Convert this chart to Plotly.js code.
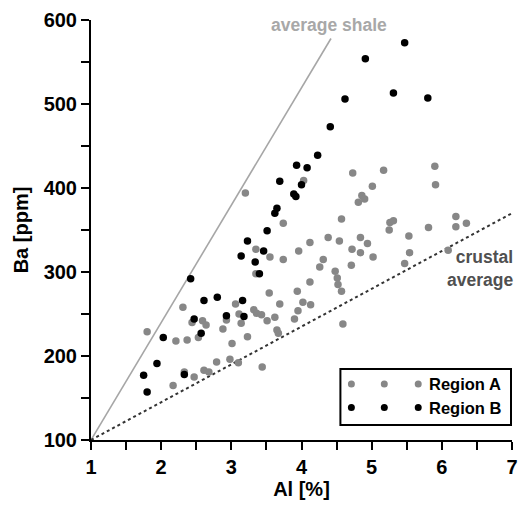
<!DOCTYPE html>
<html>
<head>
<meta charset="utf-8">
<script src="https://cdn.plot.ly/plotly-3.0.1.min.js"></script>
<style>
html,body{margin:0;padding:0;background:#fff;}
#chart{width:518px;height:506px;}
</style>
</head>
<body>
<div id="chart"></div>
<script>
// Region A (grey) : Al [%], Ba [ppm]
const regionA_al = [1.80,2.17,2.21,2.31,2.33,2.37,2.44,2.47,2.53,2.59,2.61,2.64,2.68,2.79,2.88,2.93,2.98,3.01,3.06,3.10,3.11,3.14,3.20,3.23,3.32,3.35,3.35,3.36,3.43,3.44,3.51,3.54,3.55,3.62,3.65,3.67,3.69,3.74,3.74,3.90,3.94,3.95,3.96,4.02,4.03,4.12,4.12,4.13,4.26,4.31,4.38,4.48,4.51,4.52,4.54,4.57,4.57,4.59,4.71,4.72,4.73,4.81,4.84,4.84,4.86,4.90,4.94,5.01,5.02,5.17,5.25,5.26,5.31,5.47,5.53,5.54,5.81,5.90,5.91,6.09,6.20,6.20,6.35];
const regionA_ba = [229,165,218,258,181,219,240,175,222,242,183,237,181,193,232,243,196,215,262,192,250,239,394,223,255,327,298,251,249,187,242,275,318,246,231,227,262,358,315,244,277,254,325,264,409,335,288,261,306,315,341,301,293,285,337,363,277,238,308,327,418,383,341,323,391,387,334,402,318,421,350,359,361,310,343,323,353,426,404,326,366,354,358];
// Region B (black)
const regionB_al = [1.75,1.80,1.94,2.03,2.33,2.42,2.47,2.57,2.61,2.80,2.93,3.16,3.18,3.14,3.23,3.34,3.40,3.46,3.51,3.62,3.65,3.69,3.89,3.92,4.00,3.93,4.08,4.23,4.41,4.62,4.91,5.31,5.47,5.80];
const regionB_ba = [177,157,191,222,178,292,244,227,266,270,248,266,247,319,337,312,298,325,349,370,376,408,393,390,404,427,424,439,473,506,554,513,573,507];
// Reference lines
const shaleAl = [1, 4.42];
const shaleBa = [100, 578];
const crustAl = [1, 7];
const crustBa = [100, 370];
const xTicks = [1,2,3,4,5,6,7];
const yTicks = [100,200,300,400,500,600];
const seriesNames = ['Region A','Region B'];

const FONT = 'Liberation Sans, Arial, sans-serif';

const traces = [
  {x: shaleAl, y: shaleBa, mode:'lines', line:{color:'#a6a6a6', width:1.6}, showlegend:false, hoverinfo:'skip'},
  {x: crustAl, y: crustBa, mode:'lines', line:{color:'#333', width:2, dash:'dot'}, showlegend:false, hoverinfo:'skip'},
  {x: regionA_al, y: regionA_ba, mode:'markers', name: seriesNames[0], marker:{color:'#878787', size:7.5}},
  {x: regionB_al, y: regionB_ba, mode:'markers', name: seriesNames[1], marker:{color:'#000', size:7.5}}
];

function px2x(p){ return (p-91)/422; }
function py2y(p){ return (440-p)/420; }

const shapes = [
  {type:'rect', xref:'paper', yref:'paper', x0:px2x(341), x1:px2x(512), y0:py2y(425), y1:py2y(369), line:{color:'#000', width:2}}
];
const dotX = [352, 385, 419];
const rows = [{py:384, color:'#878787'}, {py:407.5, color:'#000'}];
rows.forEach(r => dotX.forEach(dx => shapes.push({
  type:'circle', xref:'paper', yref:'paper', xsizemode:'pixel', ysizemode:'pixel',
  xanchor:px2x(dx), yanchor:py2y(r.py), x0:-3.5, x1:3.5, y0:-3.5, y1:3.5,
  fillcolor:r.color, line:{width:0}
})));

const annotations = [
  {xref:'paper', yref:'paper', x:px2x(330), y:py2y(25), text:'average shale', showarrow:false, xanchor:'center', yanchor:'middle',
   font:{family:FONT, size:17.5, color:'#a8a8a8', weight:'bold'}},
  {xref:'paper', yref:'paper', x:px2x(516), y:py2y(268), text:'crustal<br>average', showarrow:false, xanchor:'right', yanchor:'middle', align:'right',
   font:{family:FONT, size:17.5, color:'#505050', weight:'bold'}},
  {xref:'paper', yref:'paper', x:px2x(428), y:py2y(384), text:seriesNames[0], showarrow:false, xanchor:'left', yanchor:'middle',
   font:{family:FONT, size:16.5, color:'#000', weight:'bold'}},
  {xref:'paper', yref:'paper', x:px2x(428), y:py2y(407.5), text:seriesNames[1], showarrow:false, xanchor:'left', yanchor:'middle',
   font:{family:FONT, size:16.5, color:'#000', weight:'bold'}}
];

const layout = {
  width:518, height:506,
  margin:{l:91, r:6, t:20, b:66},
  paper_bgcolor:'#fff', plot_bgcolor:'#fff',
  showlegend:false,
  font:{family:FONT, color:'#000'},
  xaxis:{
    range:[1,7], tickvals:xTicks, showgrid:false, zeroline:false,
    showline:true, linecolor:'#000', linewidth:2,
    ticks:'outside', ticklen:8, tickwidth:2, tickcolor:'#000',
    tickfont:{family:FONT, size:20, color:'#000', weight:'bold'},
    minor:{dtick:0.5, ticks:'outside', ticklen:8, tickwidth:2, tickcolor:'#000', showgrid:false},
    title:{text:'Al [%]', font:{family:FONT, size:20, color:'#000', weight:'bold'}, standoff:4}
  },
  yaxis:{
    range:[100,600], tickvals:yTicks, showgrid:false, zeroline:false,
    showline:true, linecolor:'#000', linewidth:2,
    ticks:'outside', ticklen:8, tickwidth:2, tickcolor:'#000',
    tickfont:{family:FONT, size:20, color:'#000', weight:'bold'},
    minor:{dtick:50, ticks:'outside', ticklen:8, tickwidth:2, tickcolor:'#000', showgrid:false},
    title:{text:'Ba [ppm]', font:{family:FONT, size:20, color:'#000', weight:'bold'}, standoff:10}
  },
  shapes: shapes,
  annotations: annotations
};

Plotly.newPlot('chart', traces, layout, {displayModeBar:false, staticPlot:true});
</script>
</body>
</html>
